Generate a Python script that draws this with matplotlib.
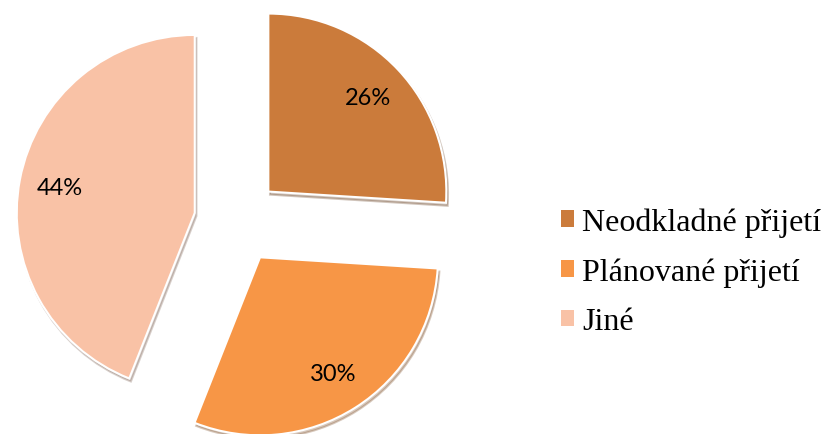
import matplotlib.pyplot as plt
from matplotlib.patches import Patch

# data
categories = ['Neodkladné přijetí', 'Plánované přijetí', 'Jiné']
shares = [26, 30, 44]
colors = ['#CB7B3B', '#F79646', '#F9C2A6']

W, H = 823, 435
fig = plt.figure(figsize=(W / 100, H / 100), dpi=100)
ax = fig.add_axes([0, 0, 1, 1])

# pie in pixel-like data units
wedges, texts, autotexts = ax.pie(
    shares, colors=colors, startangle=90, counterclock=False,
    center=(237, H - 222), radius=178, explode=[43, 43, 43],
    autopct='%1.0f%%', pctdistance=0.77,
    wedgeprops=dict(edgecolor='white', linewidth=1.5),
    shadow=dict(ox=1.2, oy=-2.2, shade=0.5, alpha=0.3),
    textprops=dict(fontsize=17, family='Lato', color='black'),
    frame=True)
ax.set_xlim(0, W)
ax.set_ylim(0, H)
ax.axis('off')

handles = [Patch(facecolor=c, edgecolor='none') for c in colors]
fig.legend(handles, categories, loc='center left', bbox_to_anchor=(561 / W, 1 - 273 / H),
           frameon=False, prop=dict(family='Liberation Serif', size=23),
           borderpad=0, borderaxespad=0,
           handlelength=0.41, handleheight=0.41, handletextpad=0.25, labelspacing=0.64)

fig.savefig('out.png', dpi=100)
